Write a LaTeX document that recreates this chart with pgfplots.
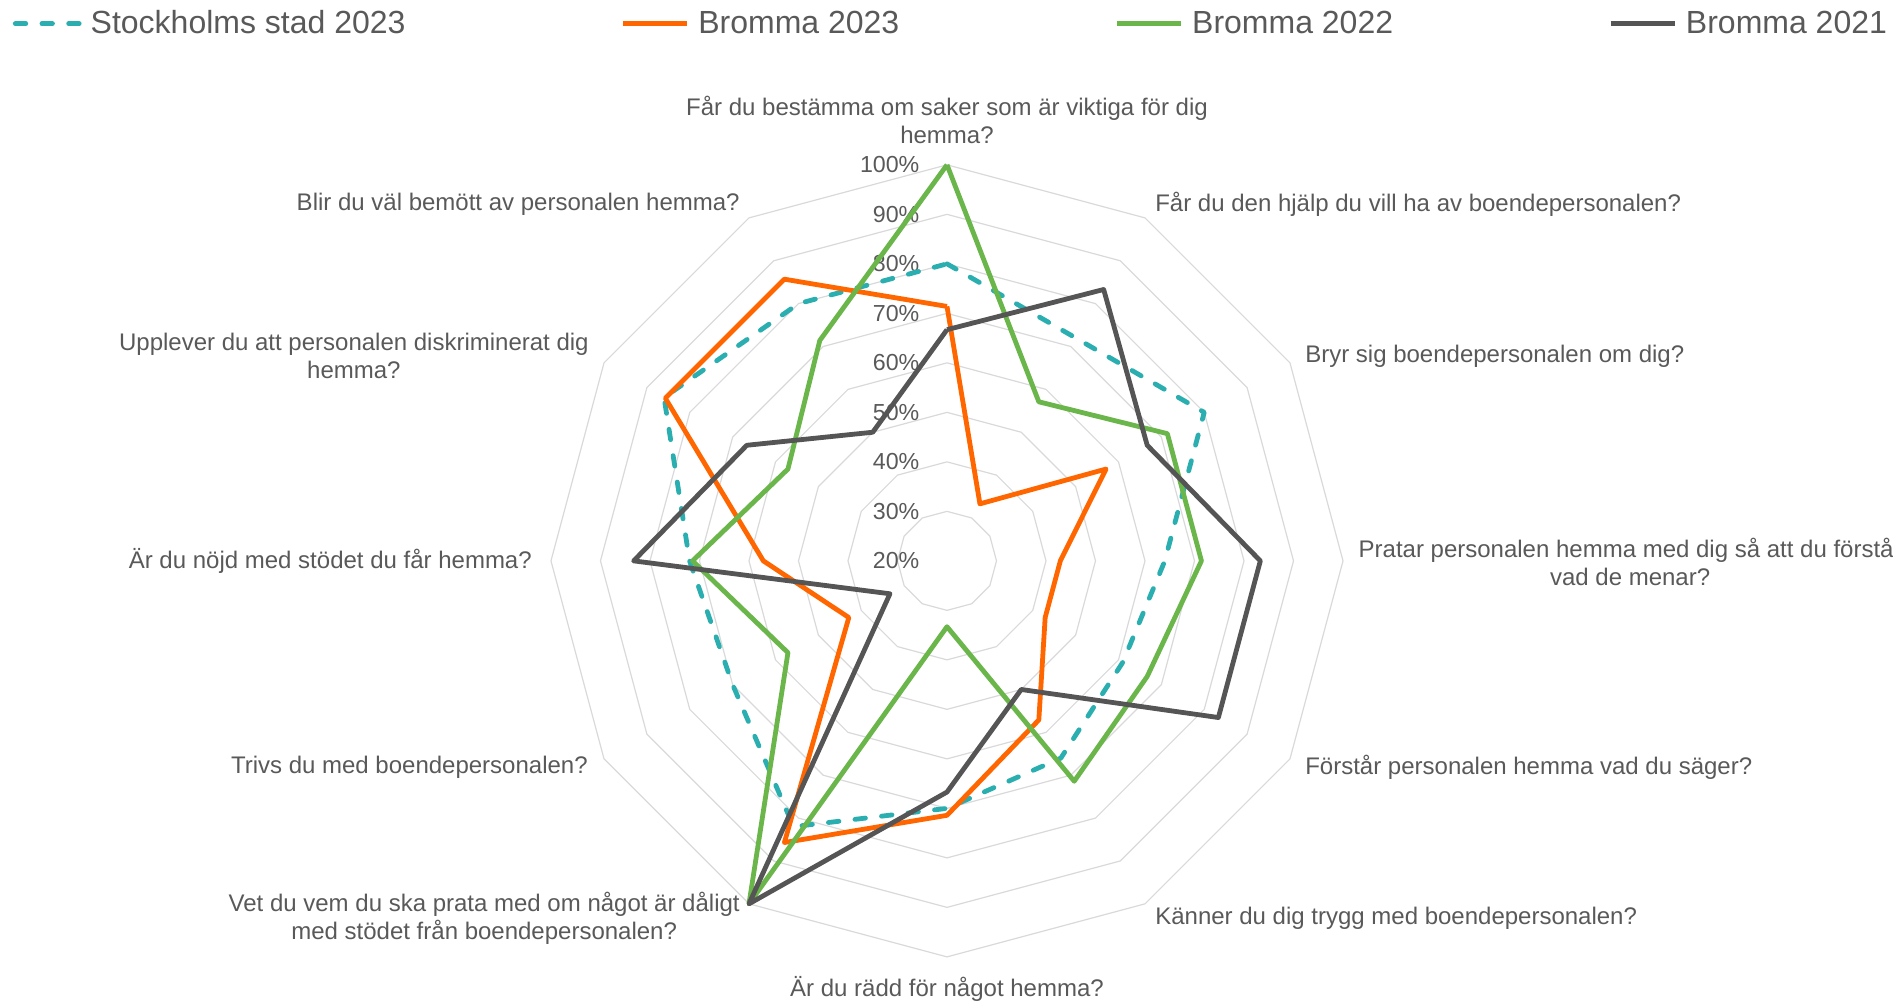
\documentclass[border=0pt]{standalone}
\usepackage{pgfplots}
\pgfplotsset{compat=1.18}
\usepackage{pgfplotstable}
\usepackage{fontspec}
\setmainfont{Liberation Sans}

\definecolor{cteal}{HTML}{2BAEB0}
\definecolor{corange}{HTML}{FF6600}
\definecolor{cgreen}{HTML}{6AB64A}
\definecolor{cdark}{HTML}{555555}
\definecolor{cgrid}{HTML}{D9D9D9}
\definecolor{ctext}{HTML}{595959}

% ang: clockwise from top; values in percent
\pgfplotstableread{
ang s b23 b22 b21
0   80 71.4 100  66.7
30  72 33.3 57.1 83.3
60  80 57.1 71.4 66.7
90  64 42.9 71.4 83.3
120 61 42.9 66.7 83.3
150 66 57.1 71.4 50
180 70 71.4 33.3 66.7
210 82 85.7 100  100
240 70 42.9 57.1 33.3
270 72 57.1 71.4 83.3
300 86 85.7 57.1 66.7
330 80 85.7 71.4 50
360 80 71.4 100  66.7
}\data

\begin{document}
\begin{tikzpicture}
\begin{axis}[
  x=2.475pt, y=2.475pt,
  xmin=-191.3, xmax=191.1, ymin=-89.1, ymax=113.3,
  scale only axis,
  hide axis,
  clip=false,
  legend columns=4,
  legend cell align=left,
  legend image code/.code={\draw[#1] (0pt,0pt) -- (32pt,0pt);},
  legend style={at={(axis cs:-188.7,108.5)}, anchor=west, draw=none, fill=none,
    inner sep=0pt, outer sep=0pt,
    nodes={inner sep=0pt, text=ctext},
    font=\fontsize{16}{19}\selectfont,
    /tikz/every odd column/.append style={column sep=4.5pt},
    /tikz/every even column/.append style={column sep=107.5pt}},
]
% grid polygons 30%..100%
\pgfplotsinvokeforeach{10,20,30,40,50,60,70,80}{
  \addplot[cgrid, line width=0.6pt, forget plot] table[x expr={#1*sin(\thisrow{ang})}, y expr={#1*cos(\thisrow{ang})}] {\data};
}
% radial tick labels
\begin{scope}[every node/.style={anchor=east, text=ctext, font=\fontsize{11.6}{13}\selectfont, inner sep=0pt}]
\node at (axis cs:-5.5,0) {20\%};
\node at (axis cs:-5.5,10) {30\%};
\node at (axis cs:-5.5,20) {40\%};
\node at (axis cs:-5.5,30) {50\%};
\node at (axis cs:-5.5,40) {60\%};
\node at (axis cs:-5.5,50) {70\%};
\node at (axis cs:-5.5,60) {80\%};
\node at (axis cs:-5.5,70) {90\%};
\node at (axis cs:-5.5,80) {100\%};
\end{scope}
% category labels
\begin{scope}[every node/.style={text=ctext, font=\fontsize{12}{14}\selectfont, inner sep=0pt, align=center}]
\node[anchor=center] at (axis cs:0,89.1) {Får du bestämma om saker som är viktiga för dig\\hemma?};
\node[anchor=west] at (axis cs:42.0,72.1) {Får du den hjälp du vill ha av boendepersonalen?};
\node[anchor=west] at (axis cs:72.3,41.4) {Bryr sig boendepersonalen om dig?};
\node[anchor=center] at (axis cs:138.0,-0.3) {Pratar personalen hemma med dig så att du förstår\\vad de menar?};
\node[anchor=west] at (axis cs:72.3,-41.8) {Förstår personalen hemma vad du säger?};
\node[anchor=west] at (axis cs:42.0,-72.3) {Känner du dig trygg med boendepersonalen?};
\node[anchor=center] at (axis cs:0,-86.5) {Är du rädd för något hemma?};
\node[anchor=east] at (axis cs:-41.8,-72.3) {Vet du vem du ska prata med om något är dåligt\\med stödet från boendepersonalen?};
\node[anchor=east] at (axis cs:-72.5,-41.8) {Trivs du med boendepersonalen?};
\node[anchor=east] at (axis cs:-83.8,0) {Är du nöjd med stödet du får hemma?};
\node[anchor=east] at (axis cs:-72.3,41.5) {Upplever du att personalen diskriminerat dig\\hemma?};
\node[anchor=east] at (axis cs:-41.8,72.1) {Blir du väl bemött av personalen hemma?};
\end{scope}
% series
\addplot[cteal, line width=2.4pt, dash pattern=on 5.25pt off 8.1pt, line cap=round, line join=round]
  table[x expr={(\thisrow{s}-20)*sin(\thisrow{ang})}, y expr={(\thisrow{s}-20)*cos(\thisrow{ang})}] {\data};
\addlegendentry{Stockholms stad 2023}
\addplot[corange, line width=2.4pt, line join=round]
  table[x expr={(\thisrow{b23}-20)*sin(\thisrow{ang})}, y expr={(\thisrow{b23}-20)*cos(\thisrow{ang})}] {\data};
\addlegendentry{Bromma 2023}
\addplot[cgreen, line width=2.4pt, line join=round]
  table[x expr={(\thisrow{b22}-20)*sin(\thisrow{ang})}, y expr={(\thisrow{b22}-20)*cos(\thisrow{ang})}] {\data};
\addlegendentry{Bromma 2022}
\addplot[cdark, line width=2.4pt, line join=round]
  table[x expr={(\thisrow{b21}-20)*sin(\thisrow{ang})}, y expr={(\thisrow{b21}-20)*cos(\thisrow{ang})}] {\data};
\addlegendentry{Bromma 2021}
\end{axis}
\pgfresetboundingbox
\path[use as bounding box] (current axis.south west) rectangle (current axis.north east);
\end{tikzpicture}
\end{document}
